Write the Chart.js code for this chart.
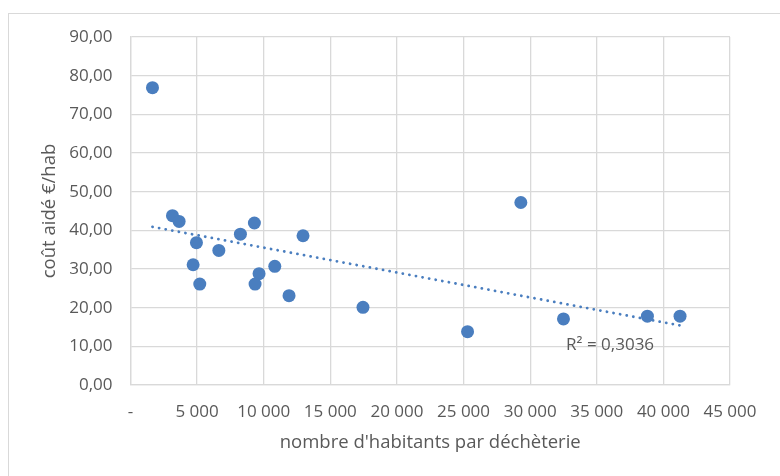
<!DOCTYPE html>
<html>
<head>
<meta charset="utf-8">
<script src="https://cdn.jsdelivr.net/npm/chart.js@4/dist/chart.umd.min.js"></script>
<style>
  html, body { margin:0; padding:0; background:#fff; overflow:hidden; }
  #wrap { position:relative; width:780px; height:476px; }
  #frame { position:absolute; left:8px; top:13px; width:900px; height:600px; border:1px solid #d9d9d9; box-sizing:border-box; }
  canvas { position:absolute; left:0; top:0; }
</style>
</head>
<body>
<div id="wrap">
  <div id="frame"></div>
  <canvas id="chart" width="780" height="476"></canvas>
</div>
<script>
const habitants = [1650, 3150, 3650, 8250, 9300, 12950, 4950, 6630, 4700, 5200, 9650, 9350, 10830, 11900, 17450, 29300, 25300, 32500, 38800, 41250];
const coutAide  = [76.9, 43.8, 42.3, 39.0, 41.9, 38.6, 36.8, 34.8, 31.1, 26.1, 28.8, 26.1, 30.7, 23.1, 20.1, 47.2, 13.8, 17.1, 17.8, 17.8];

// tendance linéaire (bouts)
const trendX = [1650, 41250];
const trendY = [40.9, 15.4];
const r2Text = 'R² = 0,3036';
const r2At = [36000, 10.3];

const xTicksMax = 45000, xStep = 5000;
const yTicksMax = 90, yStep = 10;

const GRID = '#d9d9d9';
const TXT = '#595959';
const BLUE = '#4a7ebf';
const FONT = "'Open Sans', 'Noto Sans', sans-serif";
const FS = 17;
const FS_TITLE = 18.5;

function fmtThousands(v){
  if(v === 0) return '-';
  return String(v).replace(/\B(?=(\d{3})+(?!\d))/g, ' ');
}

// texte du R² posé sur les échelles
const r2Label = {
  id: 'r2Label',
  afterDatasetsDraw(chart){
    const {ctx, scales:{x, y}} = chart;
    ctx.save();
    ctx.font = FS + 'px ' + FONT;
    ctx.fillStyle = TXT;
    ctx.textAlign = 'center';
    ctx.textBaseline = 'middle';
    ctx.fillText(r2Text, x.getPixelForValue(r2At[0]), y.getPixelForValue(r2At[1]));
    ctx.restore();
  }
};

new Chart(document.getElementById('chart').getContext('2d'), {
  type: 'scatter',
  data: {
    datasets: [
      {
        label: 'tendance',
        data: trendX.map((v,i)=>({x:v, y:trendY[i]})),
        showLine: true,
        borderColor: BLUE,
        borderWidth: 2.8,
        borderDash: [0.1, 6.6],
        borderCapStyle: 'round',
        pointRadius: 0,
        fill: false
      },
      {
        label: 'coût',
        data: habitants.map((v,i)=>({x:v, y:coutAide[i]})),
        backgroundColor: BLUE,
        borderColor: BLUE,
        pointRadius: 6.5,
        pointBorderWidth: 0
      }
    ]
  },
  options: {
    responsive: false,
    animation: false,
    devicePixelRatio: 1,
    layout: { padding: { left: 0, top: 37, right: 50, bottom: 0 } },
    plugins: { legend: { display: false }, tooltip: { enabled: false } },
    scales: {
      x: {
        type: 'linear',
        min: 0, max: xTicksMax,
        ticks: { stepSize: xStep, color: TXT, font: { family: FONT, size: FS }, padding: 17, callback: v => fmtThousands(v), maxRotation: 0 },
        grid: { color: GRID, lineWidth: 1.3, drawTicks: false },
        border: { color: GRID, width: 1.3 },
        title: { display: true, text: "nombre d'habitants par déchèterie", color: TXT, font: { family: FONT, size: FS_TITLE }, padding: { top: 0, bottom: 22 } },
        afterFit(s){ s.height = 91; }
      },
      y: {
        min: 0, max: yTicksMax,
        ticks: { stepSize: yStep, color: TXT, font: { family: FONT, size: FS }, padding: 18, callback: v => v.toFixed(2).replace('.', ',') },
        grid: { color: GRID, lineWidth: 1.3, drawTicks: false },
        border: { color: GRID, width: 1.3 },
        title: { display: true, text: 'coût aidé €/hab', color: TXT, font: { family: FONT, size: FS_TITLE }, padding: { top: 39, bottom: 0 } },
        afterFit(s){ s.width = 130.5; }
      }
    }
  },
  plugins: [r2Label]
});
</script>
</body>
</html>
